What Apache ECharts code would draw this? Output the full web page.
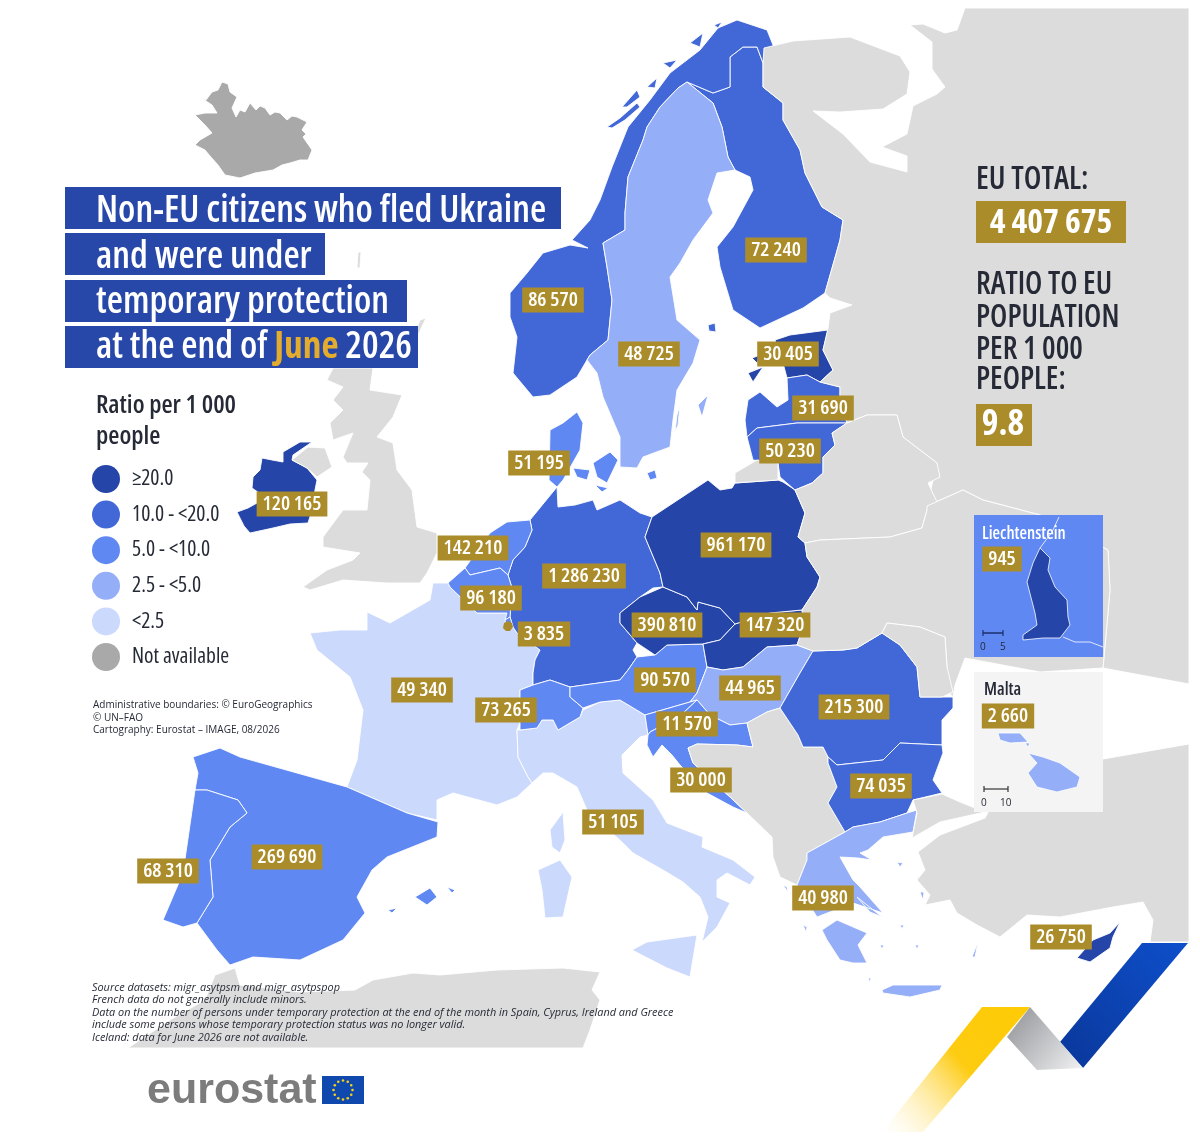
<!DOCTYPE html>
<html><head><meta charset="utf-8">
<script src="https://cdn.jsdelivr.net/npm/echarts@6/dist/echarts.min.js"></script>
<style>html,body{margin:0;background:#fff}#c{width:1200px;height:1143px}</style></head>
<body><div id="c"></div>
<script>
const FACE = '"Open Sans",sans-serif', COND = 'condensed';
// ---- data ----
const countries = ['Germany','Poland','Czechia','Slovakia','Ireland','Estonia','Cyprus','Finland','Norway','Sweden','Denmark','Netherlands','Belgium','Luxembourg','France','Italy','Spain','Portugal','Switzerland','Austria','Hungary','Slovenia','Croatia','Romania','Bulgaria','Greece','Latvia','Lithuania'];
const persons   = [1286230,961170,390810,147320,120165,30405,26750,72240,86570,48725,51195,142210,96180,3835,49340,51105,269690,68310,73265,90570,44965,11570,30000,215300,74035,40980,31690,50230];
const ratios    = [15.4,26.3,35.8,27,22.5,22,27,12.8,15.5,4.6,8.5,7.9,8.1,5.6,0.7,0.9,5.5,6.4,8.1,9.8,4.7,5.4,7.7,11.3,11.5,3.9,17,17.3];
const insetCountries = ['Liechtenstein','Malta'];
const insetPersons   = [945,2660];
const insetRatios    = [23.8,4.8];
const NOT_AVAILABLE = -1;
const legendLabels = ['≥20.0','10.0 - <20.0','5.0 - <10.0','2.5 - <5.0','<2.5','Not available'];
const legendColors = ['#2545a8','#4268d8','#5f88f3','#94aef8','#cbd9fc','#a9a9a9'];
const titleLines = ['Non-EU citizens who fled Ukraine','and were under','temporary protection','at the end of {g|June} 2026'];
const sideLabels = ['RATIO TO EU','POPULATION','PER 1 000','PEOPLE:'];
const euTotal = '4 407 675', euRatio = '9.8';
const creditLines = ['Administrative boundaries: © EuroGeographics','© UN–FAO','Cartography: Eurostat – IMAGE, 08/2026'];
const sourceLines = ['Source datasets: migr_asytpsm and migr_asytpspop','French data do not generally include minors.','Data on the number of persons under temporary protection at the end of the month in Spain, Cyprus, Ireland and Greece','include some persons whose temporary protection status was no longer valid.','Iceland: data for June 2026 are not available.'];

// ---- map geometry (outlines in picture space) ----
const LAND = {
Iceland:[[[200,97],[206,100],[212,92],[218,90],[222,82],[228,84],[230,92],[237,97],[232,108],[236,117],[240,110],[245,112],[250,103],[256,110],[260,106],[265,108],[270,115],[275,112],[280,113],[287,120],[292,116],[297,117],[307,122],[302,130],[306,134],[303,137],[312,150],[308,160],[300,160],[290,163],[282,165],[273,170],[255,173],[240,178],[225,175],[218,165],[210,156],[205,150],[195,145],[200,140],[212,133],[205,125],[195,115],[205,113],[217,113],[212,105]]],
Ireland:[[[283,452],[300,442],[312,442],[293,455],[292,460],[307,468],[317,480],[315,490],[312,510],[308,523],[290,524],[273,528],[250,533],[244,526],[237,512],[248,508],[257,503],[262,495],[252,488],[253,477],[260,470],[262,458],[272,460],[283,462]]],
NorthernIreland:[[[292,460],[308,447],[325,448],[332,467],[317,477],[307,468]]],
UK:[[[333,368],[373,368],[370,390],[402,395],[393,417],[377,437],[393,443],[397,470],[412,490],[417,527],[437,533],[437,553],[427,573],[420,583],[387,583],[343,580],[310,590],[303,587],[327,570],[353,560],[360,553],[323,547],[323,537],[343,510],[367,510],[370,480],[362,472],[368,463],[347,463],[343,457],[353,433],[333,440],[330,423],[343,410],[333,400],[343,387],[327,380]],[[358,252],[361,252],[360,268],[357,268]],[[420,320],[426,318],[418,335],[414,335]]],
France:[[[310,633],[340,630],[367,630],[367,612],[390,623],[430,600],[433,583],[448,583],[450,587],[477,613],[507,613],[513,627],[517,633],[540,650],[535,660],[533,673],[533,685],[520,690],[520,723],[517,730],[518,757],[528,777],[532,783],[517,797],[497,805],[453,793],[437,800],[437,820],[407,813],[347,787],[357,760],[363,710],[350,677],[317,650]],[[550,830],[563,812],[565,840],[560,853],[552,847]]],
Spain:[[[193,757],[220,748],[240,757],[297,773],[347,787],[407,813],[438,822],[437,837],[387,857],[372,870],[357,897],[365,913],[343,940],[300,960],[253,957],[230,965],[217,950],[197,923],[213,897],[210,860],[230,827],[247,813],[238,800],[207,790],[195,790],[198,773]],[[415,897],[430,888],[437,897],[427,905]],[[447,887],[455,890],[452,893]],[[388,910],[397,908],[392,913]]],
Portugal:[[[195,790],[207,790],[238,800],[247,813],[230,827],[210,860],[213,897],[197,923],[183,927],[163,920],[183,873]]],
Italy:[[[517,730],[520,730],[537,728],[542,720],[553,720],[558,730],[580,717],[583,710],[600,702],[620,700],[645,715],[648,735],[640,737],[622,755],[623,773],[653,800],[667,823],[703,837],[702,847],[733,860],[755,877],[750,885],[727,873],[717,880],[717,897],[730,903],[717,927],[702,942],[708,917],[700,897],[683,882],[663,870],[633,853],[623,843],[587,810],[577,787],[553,773],[543,773],[532,783],[528,777],[518,757]],[[632,950],[647,942],[697,935],[690,977],[667,968]],[[538,870],[560,860],[572,877],[563,917],[545,918],[542,890]]],
Germany:[[[530,520],[557,487],[558,507],[575,505],[593,500],[597,510],[620,500],[640,513],[652,517],[645,537],[660,573],[663,587],[653,588],[640,597],[620,613],[620,623],[637,643],[633,650],[637,657],[628,670],[620,680],[570,687],[550,680],[533,685],[533,673],[535,660],[540,650],[517,633],[513,627],[510,617],[512,588],[508,575],[513,560],[525,547],[532,530]]],
Netherlands:[[[490,533],[507,522],[530,520],[532,530],[525,547],[513,560],[508,575],[500,568],[470,575],[465,568]]],
Belgium:[[[448,583],[465,568],[470,575],[500,568],[508,575],[512,588],[510,617],[505,620],[507,613],[477,613],[450,587]]],
Luxembourg:[[[505,620],[510,617],[513,627],[507,631]]],
Switzerland:[[[520,690],[533,685],[550,680],[570,687],[570,697],[583,708],[580,717],[558,730],[553,720],[542,720],[537,728],[520,730]]],
Austria:[[[570,687],[620,680],[628,670],[637,657],[655,655],[667,645],[703,644],[707,667],[697,693],[690,702],[645,715],[620,700],[600,702],[583,708],[570,697]]],
Czechia:[[[620,613],[640,597],[663,587],[687,597],[697,610],[698,602],[720,608],[735,624],[720,640],[703,644],[667,645],[655,655],[637,643],[620,623]]],
Slovakia:[[[735,624],[770,613],[802,610],[804,625],[797,645],[767,647],[743,667],[723,670],[707,667],[703,644],[720,640]]],
Poland:[[[652,517],[708,480],[720,490],[732,488],[735,483],[778,480],[783,482],[795,490],[805,513],[798,537],[805,543],[807,557],[820,577],[817,587],[802,610],[770,613],[735,624],[720,608],[698,602],[697,610],[687,597],[663,587],[660,573],[645,537]]],
Hungary:[[[707,667],[723,670],[743,667],[767,647],[797,645],[813,651],[800,673],[780,708],[767,712],[747,723],[730,725],[710,715],[697,700],[690,702],[697,693]]],
Slovenia:[[[645,715],[690,702],[697,700],[680,716],[665,724],[650,732],[648,735]]],
Croatia:[[[648,735],[650,732],[665,724],[680,716],[697,700],[710,715],[730,725],[747,723],[753,747],[737,745],[697,744],[688,748],[693,763],[730,797],[747,813],[733,807],[707,793],[680,765],[672,755],[662,745],[653,757],[647,745]]],
Balkans:[[[747,723],[767,712],[780,708],[798,735],[803,747],[823,747],[828,757],[828,763],[837,787],[828,803],[845,832],[807,853],[807,860],[797,885],[780,877],[773,857],[772,837],[747,813],[730,797],[693,763],[688,748],[697,744],[737,745],[753,747]]],
Romania:[[[813,651],[843,650],[857,648],[882,633],[900,645],[917,667],[920,697],[942,697],[953,697],[953,708],[942,720],[942,745],[900,743],[883,760],[837,765],[828,757],[823,747],[803,747],[798,735],[780,708],[800,673]]],
Bulgaria:[[[828,757],[837,765],[883,760],[900,743],[942,745],[943,753],[933,780],[942,793],[913,800],[907,813],[880,822],[853,827],[845,832],[828,803],[837,787],[828,763]]],
Greece:[[[845,832],[853,827],[880,822],[907,813],[917,810],[913,832],[883,837],[868,850],[860,853],[872,860],[858,858],[840,857],[853,880],[860,887],[883,913],[853,903],[817,917],[797,885],[807,860],[807,853]],[[822,930],[837,920],[867,933],[858,945],[867,963],[853,963],[840,960],[827,940]],[[882,990],[893,985],[942,985],[940,990],[910,997],[883,993]],[[917,877],[928,878],[922,883]],[[920,892],[924,892],[923,900]],[[972,957],[978,942],[975,957]],[[897,862],[903,863],[900,867]],[[783,885],[787,887],[788,892]],[[803,925],[807,927],[806,932]],[[857,897],[882,917],[870,912]],[[900,925],[904,925],[902,929]],[[880,945],[884,945],[882,949]],[[915,945],[919,945],[917,949]],[[868,978],[871,978],[870,982]]],
Cyprus:[[[1077,958],[1093,940],[1110,933],[1120,922],[1113,937],[1110,948],[1090,962]]],
Turkey:[[[913,800],[942,794],[960,802],[985,812],[940,822],[912,838],[917,813]],[[985,818],[940,835],[918,852],[925,870],[917,880],[930,895],[925,905],[950,900],[957,913],[977,925],[1000,937],[1027,915],[1060,917],[1113,907],[1143,902],[1153,920],[1150,942],[1189,942],[1189,744],[1103,759],[1000,790]]],
Finland:[[[687,82],[713,93],[730,87],[730,57],[743,47],[757,47],[763,63],[763,87],[783,103],[783,120],[800,150],[805,173],[822,207],[843,220],[840,240],[825,293],[803,308],[760,328],[733,310],[720,267],[717,247],[733,227],[753,190],[750,177],[735,170],[728,157],[722,127],[713,103]],[[708,325],[715,323],[716,332],[709,331]]],
Norway:[[[510,317],[510,293],[527,273],[543,253],[570,245],[588,248],[572,240],[590,220],[600,200],[612,167],[628,127],[650,100],[670,73],[700,50],[718,28],[737,20],[767,30],[775,50],[763,63],[757,47],[743,47],[730,57],[730,87],[713,93],[687,82],[678,88],[660,107],[647,127],[643,140],[628,177],[625,213],[625,230],[603,243],[607,267],[612,300],[608,340],[590,355],[587,360],[577,377],[550,395],[533,397],[513,373],[517,337]],[[607,127],[620,118],[637,103],[640,107],[625,120],[612,128]],[[622,107],[637,90],[640,97],[627,107]],[[647,87],[657,78],[655,88]],[[690,43],[703,33],[700,47]],[[663,63],[677,60],[670,68]],[[714,25],[722,22],[718,28]]],
Sweden:[[[678,88],[687,82],[713,103],[722,127],[728,157],[735,170],[717,173],[708,200],[713,213],[693,240],[680,263],[670,277],[677,320],[700,340],[693,363],[677,390],[673,420],[670,447],[643,457],[637,468],[620,467],[620,437],[603,397],[597,373],[587,360],[590,355],[608,340],[612,300],[607,267],[603,243],[625,230],[625,213],[628,177],[643,140],[647,127],[660,107]],[[698,405],[708,395],[702,417]],[[677,415],[680,405],[678,425],[675,432]]],
Denmark:[[[577,412],[583,423],[580,450],[563,480],[557,487],[549,480],[550,430],[563,423]],[[593,463],[610,452],[618,460],[607,483],[597,477]],[[573,468],[590,470],[587,480],[577,477]],[[595,485],[608,488],[602,492]],[[647,473],[655,470],[657,478],[650,480]]],
Estonia:[[[828,330],[823,350],[833,370],[820,382],[807,375],[787,378],[783,363],[775,340],[790,335]],[[748,373],[763,367],[753,382]],[[752,358],[760,355],[757,363]]],
Latvia:[[[745,420],[748,400],[760,392],[777,407],[788,400],[787,378],[807,375],[820,382],[840,387],[840,400],[847,423],[797,423],[757,428],[747,437]]],
Lithuania:[[[747,437],[757,428],[797,423],[847,423],[832,433],[835,445],[823,457],[823,473],[812,483],[795,490],[780,477],[778,463],[753,460]]],
Kaliningrad:[[[735,473],[757,460],[778,463],[778,480],[735,483]]],
Russia:[[[764,48],[793,41],[850,37],[900,56],[910,72],[907,94],[883,109],[840,112],[813,111],[843,134],[870,162],[907,172],[907,156],[882,147],[907,134],[913,106],[937,94],[945,87],[932,69],[932,42],[910,25],[923,24],[945,33],[957,30],[965,8],[1189,8],[1189,684],[1103,668],[1110,590],[1108,550],[1040,515],[983,500],[963,490],[927,506],[937,463],[903,437],[897,415],[867,415],[847,423],[840,400],[840,387],[820,382],[833,370],[823,350],[828,328],[830,313],[852,305],[830,298],[825,293],[840,240],[843,220],[822,207],[805,173],[800,150],[783,120],[783,103],[763,87],[763,63]]],
Belarus:[[[847,423],[867,415],[897,415],[903,437],[937,463],[940,477],[928,483],[937,502],[927,510],[922,528],[890,537],[820,540],[805,543],[798,537],[805,513],[795,490],[812,483],[823,473],[823,457],[835,445],[832,433]]],
Ukraine:[[[805,543],[820,540],[890,537],[922,528],[927,510],[927,506],[963,490],[983,500],[1040,515],[1108,550],[1110,590],[1103,668],[1040,672],[965,658],[955,685],[953,697],[947,690],[947,667],[945,637],[920,627],[887,623],[882,633],[857,648],[843,650],[813,651],[797,645],[804,625],[802,610],[817,587],[820,577],[807,557]]],
Moldova:[[[887,623],[920,627],[945,637],[947,667],[953,692],[942,697],[920,697],[917,667],[900,645],[882,633]]],
NorthAfrica:[[[128,1048],[170,1020],[205,1000],[215,975],[235,968],[240,985],[300,992],[355,990],[373,980],[413,973],[440,975],[497,970],[563,968],[600,972],[592,990],[600,1000],[590,1030],[583,1048]]]
};
const INSET_LAND = {
Liechtenstein:[[[1040,548],[1050,558],[1048,570],[1055,587],[1067,600],[1068,617],[1070,625],[1060,638],[1043,638],[1023,640],[1023,635],[1037,625],[1035,613],[1027,582],[1033,563]]],
Malta:[[[998,733],[1020,733],[1028,742],[1010,743],[1000,740]],[[1025,743],[1030,743],[1028,747]],[[1028,753],[1043,757],[1060,763],[1080,777],[1077,787],[1057,792],[1037,787],[1028,773],[1037,763]]]
};
const PANELS = {
LiechtensteinPanel:[[[974,515],[1103,515],[1103,657],[974,657]]],
MaltaPanel:[[[974,672],[1103,672],[1103,812],[974,812]]],
LuxembourgDot:[[[504,623],[508,621],[512,623],[513,627],[510,631],[506,631],[503,628]]]
};
const PANEL_COLORS = {LiechtensteinPanel:'#5f88f3',MaltaPanel:'#f4f4f4',LuxembourgDot:'#a98a2c'};
const LABEL_AT = {Germany:[584,576],Poland:[736,545],Finland:[776,250],Norway:[553,300],Sweden:[649,354],Estonia:[788,354],Latvia:[823,408],Lithuania:[790,451],Denmark:[539,463],Ireland:[292,504],Netherlands:[473,548],Belgium:[491,598],Luxembourg:[544,634],Czechia:[667,625],Slovakia:[775,625],Austria:[665,680],Hungary:[750,688],Slovenia:[687,724],Switzerland:[506,710],France:[422,690],Italy:[613,822],Croatia:[701,780],Romania:[854,707],Bulgaria:[881,786],Spain:[287,857],Portugal:[168,871],Greece:[823,898],Cyprus:[1061,937],Liechtenstein:[1002,559],Malta:[1008,716]};

function flip(p){return [p[0],-p[1]];}
function geoJson(shapes){
  return {type:'FeatureCollection',features:Object.keys(shapes).map(function(name){
    const rings=shapes[name].map(function(r){var c=r.map(flip);c.push(c[0]);return [c];});
    const props={name:name};
    if(LABEL_AT[name]) props.cp=flip(LABEL_AT[name]);
    return {type:'Feature',properties:props,geometry:{type:'MultiPolygon',coordinates:rings}};
  })};
}
echarts.registerMap('europe',geoJson(LAND));
echarts.registerMap('panels',geoJson(PANELS));
echarts.registerMap('insets',geoJson(INSET_LAND));

function spaced(n){return String(n).replace(/\B(?=(\d{3})+(?!\d))/g,' ');}
const GOLD='#ab8c2a', INK='#262a36', BLUE='#2747a9';
const valueLabel={show:true,color:'#fff',backgroundColor:GOLD,padding:[4,6,3,6],fontFamily:FACE,fontStyle:COND,fontWeight:600,fontSize:20.5,lineHeight:18};
function rows(names,counts,vals){
  return names.map(function(n,i){return {name:n,value:vals[i],persons:counts[i],label:Object.assign({},valueLabel,{formatter:spaced(counts[i])})};});
}
const frame={aspectScale:1,boundingCoords:[[0,0],[1200,-1143]],left:0,top:0,width:1200,height:1143,roam:false,silent:true,selectedMode:false,emphasis:{disabled:true},select:{disabled:true}};
const chart=echarts.init(document.getElementById('c'));

const pieces=[
 {value:NOT_AVAILABLE,label:legendLabels[5],color:legendColors[5]},
 {lt:2.5,gt:NOT_AVAILABLE,label:legendLabels[4],color:legendColors[4]},
 {gte:2.5,lt:5,label:legendLabels[3],color:legendColors[3]},
 {gte:5,lt:10,label:legendLabels[2],color:legendColors[2]},
 {gte:10,lt:20,label:legendLabels[1],color:legendColors[1]},
 {gte:20,label:legendLabels[0],color:legendColors[0]}
];
function txt(t,x,y,size,fill,o){o=o||{};
  return {type:'text',z:100,silent:true,x:x,y:y,scaleX:o.sx||1,style:{text:t,x:0,y:0,fontSize:size,fontFamily:o.face||FACE,fill:fill,textVerticalAlign:'middle',fontWeight:o.weight||'normal',fontStyle:o.style||COND,rich:o.rich,textAlign:o.align||'left'}};
}
function rect(x,y,w,h,fill){return {type:'rect',z:99,silent:true,shape:{x:x,y:y,width:w,height:h},style:{fill:fill}};}
function line(points,color,w){return {type:'polyline',z:99,silent:true,shape:{points:points},style:{stroke:color,lineWidth:w,fill:null}};}
const titleBars=[[187,496],[233,260],[280,342],[326,353]];
const titleY=[211,257,302,347];
const gfx=[];
titleBars.forEach(function(b,i){
  gfx.push(rect(65,b[0],b[1],42,BLUE));
  gfx.push(txt(titleLines[i],96,titleY[i],37.3,'#fff',{weight:600,rich:{g:{fill:'#e3ac2c',fontSize:37.3,fontWeight:700,fontFamily:FACE,fontStyle:COND}}}));
});
gfx.push(txt('Ratio per 1 000',96,406,25.6,INK,{weight:600}));
gfx.push(txt('people',96,437,25.6,INK,{weight:600}));
creditLines.forEach(function(t,i){gfx.push(txt(t,93,[705,718,730][i],10,INK,{style:'normal'}));});
sourceLines.forEach(function(t,i){gfx.push(txt(t,92,[988,1000,1013,1025,1038][i],10.9,INK,{style:'italic'}));});
gfx.push(txt('EU TOTAL:',976,180,32,INK,{weight:600,sx:0.97}));
gfx.push(rect(976,201,150,42,GOLD));
gfx.push(txt(euTotal,1051,223,33.6,'#fff',{weight:700,align:'center'}));
sideLabels.forEach(function(t,i){gfx.push(txt(t,976,[285,318,350,380][i],32,INK,{weight:600,sx:0.95}));});
gfx.push(rect(976,404,56,42,GOLD));
gfx.push(txt(euRatio,1003,425,35.5,'#fff',{weight:700,align:'center'}));
gfx.push(txt('Liechtenstein',982,534,17.2,'#fff',{weight:600}));
gfx.push(txt('Malta',984,690,17.5,INK,{weight:600}));
gfx.push(line([[1059,517],[1052,532],[1040,548]],'#dfe7ff',1));
gfx.push(line([[1063,637],[1075,642],[1090,642],[1103,647]],'#dfe7ff',1));
gfx.push(line([[983,630],[983,636]],'#1d2f6b',1.2));gfx.push(line([[1003,630],[1003,636]],'#1d2f6b',1.2));
gfx.push(line([[983,633],[1003,633]],'#1d2f6b',1.5));
gfx.push(txt('0',980,647,10,INK,{style:'normal'}));gfx.push(txt('5',1000,647,10,INK,{style:'normal'}));
gfx.push(line([[984,786],[984,792]],'#333',1.2));gfx.push(line([[1008,786],[1008,792]],'#333',1.2));
gfx.push(line([[984,789],[1008,789]],'#333',1.2));
gfx.push(txt('0',981,803,10,INK,{style:'normal'}));gfx.push(txt('10',1000,803,10,INK,{style:'normal'}));
// eurostat logo
gfx.push(txt('eurostat',147,1091,43,'#7c7c7c',{weight:'bold',style:'normal',face:'"Liberation Sans",sans-serif'}));
gfx.push(rect(322,1076,42,28,'#1049ae'));
for(let k=0;k<12;k++){const a=k*Math.PI/6;gfx.push({type:'circle',z:100,silent:true,shape:{cx:343+9.5*Math.cos(a),cy:1090+9.5*Math.sin(a),r:1.3},style:{fill:'#f7d117'}});}
// ribbon
gfx.push({type:'polygon',z:98,silent:true,shape:{points:[[1142,943],[1188,943],[1083,1068],[1060,1042]]},style:{fill:new echarts.graphic.LinearGradient(1,0,0,1,[{offset:0,color:'#0e4fcb'},{offset:1,color:'#0a379a'}])}});
gfx.push({type:'polygon',z:98,silent:true,shape:{points:[[1030,1007],[1083,1068],[1037,1070],[1007,1037]]},style:{fill:new echarts.graphic.LinearGradient(0,0,1,1,[{offset:0,color:'#8f9195'},{offset:1,color:'#f2f2f4'}])}});
gfx.push({type:'polygon',z:98,silent:true,shape:{points:[[982,1007],[1030,1007],[923,1132],[882,1132]]},style:{fill:new echarts.graphic.LinearGradient(1,0,0,1,[{offset:0,color:'#ffcb05'},{offset:0.45,color:'#fdcb10'},{offset:1,color:'rgba(255,240,190,0)'}])}});

chart.setOption({
  animation:false,
  backgroundColor:'#fff',
  visualMap:{type:'piecewise',seriesIndex:[0,2],pieces:pieces,left:92,top:465,orient:'vertical',itemSymbol:'circle',itemWidth:28,itemHeight:28,itemGap:7.6,textGap:12,hoverLink:false,selectedMode:false,padding:0,textStyle:{fontFamily:FACE,fontStyle:COND,fontWeight:500,fontSize:21.5,color:INK}},
  graphic:{elements:gfx},
  series:[
    Object.assign({type:'map',name:'ratio',map:'europe',z:2,itemStyle:{areaColor:'#dcdcdc',borderColor:'#fff',borderWidth:0.9},
      data:rows(countries,persons,ratios).concat([{name:'Iceland',value:NOT_AVAILABLE}])},frame),
    Object.assign({type:'map',name:'panels',map:'panels',z:3,itemStyle:{borderWidth:0},
      data:Object.keys(PANELS).map(function(n){return {name:n,itemStyle:{areaColor:PANEL_COLORS[n]}};})},frame),
    Object.assign({type:'map',name:'insets',map:'insets',z:4,itemStyle:{areaColor:'transparent',borderColor:'#fff',borderWidth:0.8},
      data:rows(insetCountries,insetPersons,insetRatios)},frame)
  ]
});
</script></body></html>
